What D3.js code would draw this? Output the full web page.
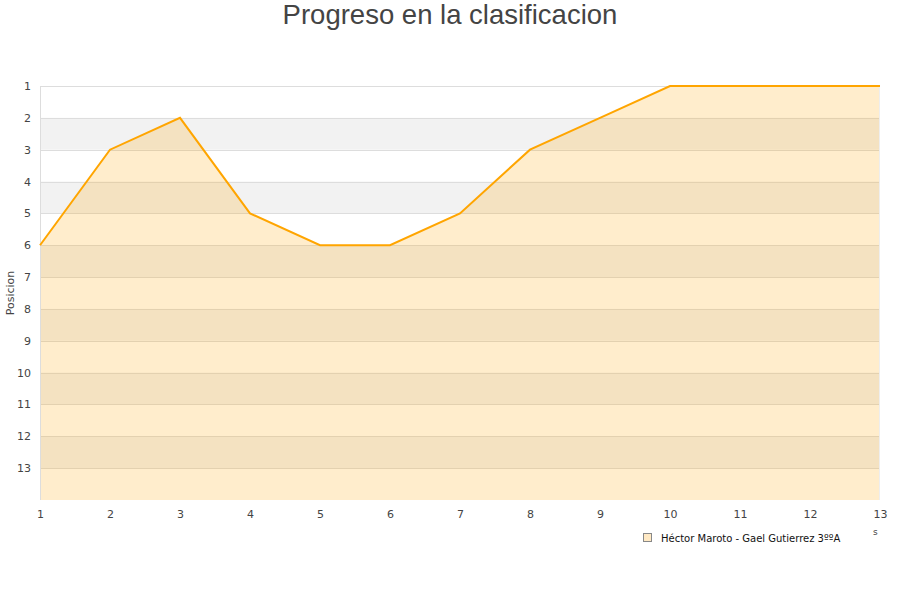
<!DOCTYPE html>
<html>
<head>
<meta charset="utf-8">
<script src="https://cdn.jsdelivr.net/npm/d3@7"></script>
<style>
  body { margin: 0; background: #fff; }
  text { font-family: "DejaVu Sans", sans-serif; }
</style>
</head>
<body>
<div id="chart"></div>
<script>
// jornadas y posicion del equipo
var jornadas = [1, 2, 3, 4, 5, 6, 7, 8, 9, 10, 11, 12, 13];
var posiciones = [6, 3, 2, 5, 6, 6, 5, 3, 2, 1, 1, 1, 1];
var posTicks = [1, 2, 3, 4, 5, 6, 7, 8, 9, 10, 11, 12, 13];
var serieNombre = "Héctor Maroto - Gael Gutierrez 3ººA";
var titulo = "Progreso en la clasificacion";

var width = 900, height = 600;
// limites del area de dibujo
var plotLeft = 40, plotRight = 880, plotTop = 86, plotBottom = 500;

var svg = d3.select("#chart").append("svg")
    .attr("width", width).attr("height", height);

var x = d3.scaleLinear().domain([1, 13]).range([plotLeft, plotRight]);
var y = d3.scaleLinear().domain([1, 14]).range([plotTop, plotBottom]);

// bandas alternas grises
svg.append("g").selectAll("rect")
    .data(posTicks.filter(function(d){ return d % 2 === 0; }))
    .enter().append("rect")
    .attr("x", plotLeft)
    .attr("width", plotRight - plotLeft)
    .attr("y", function(d){ return y(d); })
    .attr("height", function(d){ return y(d + 1) - y(d); })
    .attr("fill", "#f2f2f2");

// lineas de la rejilla
svg.append("g").selectAll("line")
    .data(posTicks)
    .enter().append("line")
    .attr("x1", plotLeft).attr("x2", plotRight)
    .attr("y1", function(d){ return Math.round(y(d)) + 0.5; })
    .attr("y2", function(d){ return Math.round(y(d)) + 0.5; })
    .attr("stroke", "#dddddd");

// area bajo la linea
var area = d3.area()
    .x(function(d, i){ return x(jornadas[i]); })
    .y0(y(14))
    .y1(function(d){ return y(d); });
svg.append("path")
    .datum(posiciones)
    .attr("d", area)
    .attr("fill", "rgba(255,165,0,0.2)");

// bordes del area de dibujo
svg.append("line")
    .attr("x1", plotLeft + 0.5).attr("x2", plotLeft + 0.5)
    .attr("y1", plotTop).attr("y2", plotBottom)
    .attr("stroke", "#dddddd");
svg.append("line")
    .attr("x1", plotRight - 0.5).attr("x2", plotRight - 0.5)
    .attr("y1", plotTop).attr("y2", plotBottom)
    .attr("stroke", "#eeeeee");

// linea de la serie
var line = d3.line()
    .x(function(d, i){ return x(jornadas[i]); })
    .y(function(d){ return y(d); });
svg.append("path")
    .datum(posiciones)
    .attr("d", line)
    .attr("fill", "none")
    .attr("stroke", "#ffa500")
    .attr("stroke-width", 2);

// eje Y
var yAxis = svg.append("g")
    .attr("transform", "translate(" + (plotLeft - 9) + ",0)")
    .call(d3.axisLeft(y).tickValues(posTicks).tickSize(0).tickPadding(0));
yAxis.select(".domain").remove();
yAxis.selectAll("text")
    .attr("font-size", 11)
    .attr("fill", "#444");

// eje X
var xAxis = svg.append("g")
    .attr("transform", "translate(0," + (plotBottom + 10) + ")")
    .call(d3.axisBottom(x).tickValues(jornadas).tickSize(0).tickPadding(0));
xAxis.select(".domain").remove();
xAxis.selectAll("text")
    .attr("font-size", 11)
    .attr("fill", "#444");

// titulo eje Y
svg.append("text")
    .attr("transform", "translate(14," + ((plotTop + plotBottom) / 2) + ") rotate(-90)")
    .attr("text-anchor", "middle")
    .attr("font-size", 11)
    .attr("fill", "#444")
    .text("Posicion");

// titulo
svg.append("text")
    .attr("x", width / 2)
    .attr("y", 24)
    .attr("text-anchor", "middle")
    .style("font-family", "'Liberation Sans', Arial, sans-serif")
    .attr("font-size", 27.5)
    .attr("fill", "#444")
    .text(titulo);

// leyenda
var legend = svg.append("g").attr("transform", "translate(643,533)");
legend.append("rect")
    .attr("x", 0.5).attr("y", 0.5)
    .attr("width", 8).attr("height", 8)
    .attr("fill", "#ffe9c4")
    .attr("stroke", "#888");
legend.append("text")
    .attr("x", 18).attr("y", 8.5)
    .attr("font-size", 10)
    .attr("fill", "#111")
    .text(serieNombre);

// restos del titulo del eje X recortado
svg.append("text")
    .attr("x", 873).attr("y", 535)
    .attr("font-size", 9)
    .attr("fill", "#444")
    .text("s");
</script>
</body>
</html>
